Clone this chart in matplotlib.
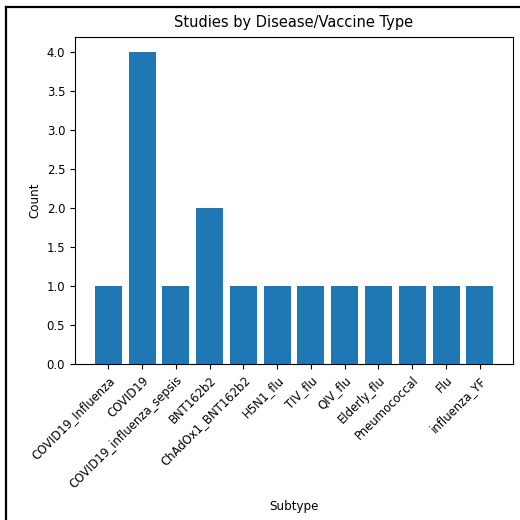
import matplotlib
matplotlib.use('Agg')
import matplotlib.pyplot as plt
from matplotlib.lines import Line2D

# study counts per subtype
subtypes = ['COVID19_Influenza', 'COVID19', 'COVID19_influenza_sepsis', 'BNT162b2',
            'ChAdOx1_BNT162b2', 'H5N1_flu', 'TIV_flu', 'QIV_flu', 'Elderly_flu',
            'Pneumococcal', 'Flu', 'influenza_YF']
counts = [1, 4, 1, 2, 1, 1, 1, 1, 1, 1, 1, 1]

plt.rcParams['font.size'] = 8.4
plt.rcParams['axes.linewidth'] = 0.8

fig = plt.figure(figsize=(5.2, 5.2), dpi=100)
ax = fig.add_axes([0.144, 0.3, 0.843, 0.629])

ax.bar(subtypes, counts, color='#1f77b4')
ax.set_title('Studies by Disease/Vaccine Type', fontsize=10.5, pad=7.4)
ax.set_xlabel('Subtype', fontsize=8.6, labelpad=6.5)
ax.set_ylabel('Count', fontsize=8.6)
ax.tick_params(labelsize=8.4)
plt.setp(ax.get_xticklabels(), rotation=45, ha='right', rotation_mode='anchor')

# frame around the figure (left and top edges)
fig.add_artist(Line2D([0.012, 0.012], [0, 0.987], transform=fig.transFigure, color='black', lw=1.6))
fig.add_artist(Line2D([0.012, 1.0], [0.987, 0.987], transform=fig.transFigure, color='black', lw=1.6))

fig.savefig('out.png', dpi=100)
